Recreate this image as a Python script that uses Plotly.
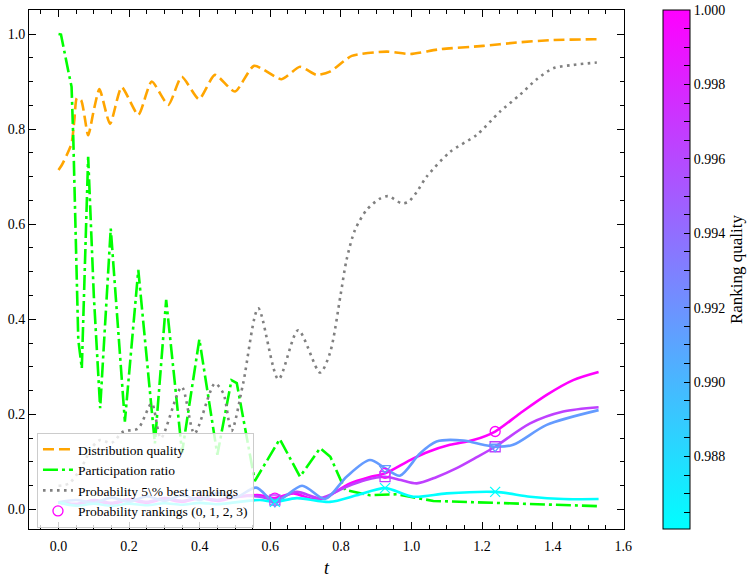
import plotly.graph_objects as go

# ---------------- data ----------------
t_dq = [0, 0.009, 0.023, 0.037, 0.045, 0.052, 0.064, 0.084, 0.1, 0.116, 0.146, 0.179, 0.226, 0.264,
        0.311, 0.349, 0.398, 0.443, 0.5, 0.554, 0.632, 0.684, 0.731, 0.769, 0.831, 0.93, 0.996,
        1.081, 1.203, 1.298, 1.392, 1.515, 1.53]
dist_quality = [0.714, 0.724, 0.745, 0.77, 0.82, 0.865, 0.861, 0.787, 0.84, 0.884, 0.811, 0.888, 0.830,
                0.900, 0.851, 0.910, 0.863, 0.914, 0.879, 0.933, 0.905, 0.931, 0.914, 0.921, 0.954,
                0.963, 0.958, 0.968, 0.975, 0.982, 0.987, 0.989, 0.989]

t_pr = [0, 0.007, 0.028, 0.037, 0.042, 0.05, 0.056, 0.066, 0.084, 0.1, 0.118, 0.148, 0.188, 0.226,
        0.273, 0.305, 0.35, 0.399, 0.45, 0.49, 0.505, 0.556, 0.627, 0.684, 0.741, 0.77, 0.812,
        0.882, 0.958, 1.062, 1.251, 1.534]
participation = [1.0, 0.999, 0.921, 0.889, 0.777, 0.55, 0.357, 0.297, 0.742, 0.45, 0.213, 0.591, 0.185,
                 0.504, 0.139, 0.441, 0.12, 0.358, 0.115, 0.272, 0.266, 0.06, 0.148, 0.069, 0.129,
                 0.111, 0.041, 0.030, 0.032, 0.018, 0.013, 0.007]

t_p5 = [0, 0.03, 0.066, 0.094, 0.118, 0.15, 0.184, 0.225, 0.264, 0.29, 0.349, 0.385, 0.443, 0.467,
        0.49, 0.523, 0.566, 0.623, 0.679, 0.741, 0.769, 0.799, 0.816, 0.84, 0.873, 0.911, 0.934,
        0.972, 0.991, 1.015, 1.043, 1.109, 1.185, 1.251, 1.307, 1.355, 1.402, 1.458, 1.525]
prob_best5 = [0.05, 0.055, 0.09, 0.13, 0.146, 0.14, 0.164, 0.17, 0.223, 0.15, 0.258, 0.16, 0.265, 0.244,
              0.165, 0.265, 0.423, 0.274, 0.377, 0.288, 0.329, 0.451, 0.525, 0.588, 0.630, 0.654,
              0.659, 0.644, 0.647, 0.668, 0.700, 0.752, 0.788, 0.837, 0.872, 0.905, 0.928, 0.935, 0.940]

t_r0 = [0, 0.05, 0.1, 0.15, 0.2, 0.25, 0.3, 0.35, 0.4, 0.45, 0.5, 0.571, 0.613, 0.665, 0.72, 0.76,
        0.778, 0.826, 0.88, 0.925, 0.996, 1.05, 1.109, 1.175, 1.237, 1.307, 1.383, 1.458, 1.53]
rank0 = [0.015, 0.01, 0.018, 0.012, 0.02, 0.014, 0.022, 0.016, 0.024, 0.018, 0.026, 0.030, 0.024, 0.034,
         0.022, 0.025, 0.034, 0.055, 0.068, 0.076, 0.104, 0.122, 0.136, 0.146, 0.164, 0.202, 0.241,
         0.272, 0.289]

t_r1 = [0, 0.05, 0.1, 0.15, 0.2, 0.25, 0.3, 0.35, 0.4, 0.45, 0.5, 0.571, 0.613, 0.675, 0.741, 0.816,
        0.87, 0.925, 0.97, 1.015, 1.07, 1.128, 1.18, 1.237, 1.336, 1.43, 1.53]
rank1 = [0.015, 0.012, 0.02, 0.014, 0.022, 0.016, 0.024, 0.018, 0.025, 0.02, 0.027, 0.027, 0.020, 0.037,
         0.024, 0.048, 0.062, 0.069, 0.062, 0.055, 0.068, 0.087, 0.108, 0.132, 0.181, 0.206, 0.215]

t_r2 = [0, 0.05, 0.1, 0.15, 0.2, 0.25, 0.3, 0.35, 0.4, 0.45, 0.5, 0.56, 0.613, 0.69, 0.755, 0.816,
        0.882, 0.925, 0.967, 1.024, 1.071, 1.147, 1.203, 1.237, 1.288, 1.383, 1.53]
rank2 = [0.015, 0.02, 0.014, 0.025, 0.016, 0.028, 0.018, 0.03, 0.02, 0.035, 0.025, 0.046, 0.016, 0.05,
         0.022, 0.069, 0.104, 0.087, 0.071, 0.118, 0.143, 0.145, 0.136, 0.132, 0.136, 0.178, 0.209]

t_r3 = [0, 0.05, 0.1, 0.15, 0.2, 0.25, 0.3, 0.35, 0.4, 0.45, 0.5, 0.571, 0.613, 0.675, 0.769, 0.845,
        0.925, 1.005, 1.1, 1.237, 1.336, 1.43, 1.53]
rank3 = [0.015, 0.008, 0.012, 0.008, 0.012, 0.009, 0.013, 0.01, 0.014, 0.011, 0.015, 0.02, 0.016, 0.024,
         0.016, 0.030, 0.045, 0.027, 0.034, 0.037, 0.027, 0.022, 0.022]

ranking_quality = [1.0, 0.9965, 0.9915, 0.98605]
mark_t = [0.613, 0.925, 1.237]
rank_symbols = ["circle-open", "square-open", "triangle-down-open", "x-thin-open"]

# ---------------- styling ----------------
FONT = "Liberation Serif, Times New Roman, Times, serif"
qmin, qmax = min(ranking_quality), max(ranking_quality)


def cool(q):
    f = (q - qmin) / (qmax - qmin)
    return "rgb(%d,%d,255)" % (round(255 * f), round(255 * (1 - f)))


fig = go.Figure()

fig.add_trace(go.Scatter(x=t_dq, y=dist_quality, mode="lines", name="Distribution quality",
                         line=dict(color="#FFA500", width=2.6, dash="11px,5px", shape="spline", smoothing=0.6)))
fig.add_trace(go.Scatter(x=t_pr, y=participation, mode="lines", name="Participation ratio",
                         line=dict(color="#00FF00", width=2.6, dash="15px,4px,3px,4px")))
fig.add_trace(go.Scatter(x=t_p5, y=prob_best5, mode="lines", name="Probability 5\\% best rankings",
                         line=dict(color="#808080", width=2.6, dash="2.6px,4.4px", shape="spline", smoothing=0.8)))

series = [(t_r0, rank0), (t_r1, rank1), (t_r2, rank2), (t_r3, rank3)]
mx, my, mc, ms = [], [], [], []
for (tt, vv), q, sym in zip(series, ranking_quality, rank_symbols):
    fig.add_trace(go.Scatter(x=tt, y=vv, mode="lines", showlegend=False,
                             line=dict(color=cool(q), width=2.6, shape="spline", smoothing=0.8)))
    for m in mark_t:
        i = tt.index(m)
        mx.append(tt[i]); my.append(vv[i]); mc.append(q); ms.append(sym)

fig.add_trace(go.Scatter(
    x=mx, y=my, mode="markers", showlegend=False,
    marker=dict(symbol=ms, size=10, color=mc, colorscale=[[0, "#00FFFF"], [1, "#FF00FF"]],
                cmin=qmin, cmax=qmax, line=dict(width=1.3),
                showscale=True,
                colorbar=dict(x=1.0655, xanchor="left", y=0, yanchor="bottom", len=1, lenmode="fraction",
                              thickness=27, xpad=0, ypad=0, outlinewidth=1, outlinecolor="black",
                              ticks="inside", ticklen=6, tickcolor="black",
                              tickvals=[0.986 + 0.0005 * k for k in range(29)],
                              ticktext=[("%.3f" % (0.986 + 0.0005 * k)) if k % 4 == 0 else "" for k in range(29)],
                              tickfont=dict(family=FONT, size=14, color="black"),
                              title=dict(text="Ranking quality", side="right",
                                         font=dict(family=FONT, size=17, color="black"))))))

# legend entry for the ranking lines
fig.add_trace(go.Scatter(x=[None], y=[None], mode="markers", name="Probability rankings (0, 1, 2, 3)",
                         marker=dict(symbol="circle-open", size=10, color=cool(ranking_quality[0]),
                                     line=dict(width=1.3))))

axis_common = dict(showline=True, linecolor="black", linewidth=1, mirror="allticks",
                   ticks="inside", ticklen=7, tickcolor="black", showgrid=False, zeroline=False,
                   automargin=False,
                   tickfont=dict(family=FONT, size=14, color="black"),
                   minor=dict(ticks="inside", ticklen=4, tickcolor="black", dtick=0.05, showgrid=False))

fig.update_layout(
    width=753, height=579,
    margin=dict(l=29, r=129, t=10, b=50, autoexpand=False),
    paper_bgcolor="white", plot_bgcolor="white",
    font=dict(family=FONT, color="black"),
    xaxis=dict(range=[-0.0836, 1.602], dtick=0.2, tickformat=".1f", ticklabelstandoff=4,
               title=dict(text="<i>t</i>", font=dict(family=FONT, size=18), standoff=8), **axis_common),
    yaxis=dict(range=[-0.041, 1.0505], dtick=0.2, tickformat=".1f", **axis_common),
    legend=dict(x=0.0134, y=0.002, xanchor="left", yanchor="bottom",
                bgcolor="rgba(255,255,255,0.8)", bordercolor="#cccccc", borderwidth=1,
                font=dict(family=FONT, size=13.5, color="black"),
                traceorder="normal"),
)

fig.write_html("out.html")
